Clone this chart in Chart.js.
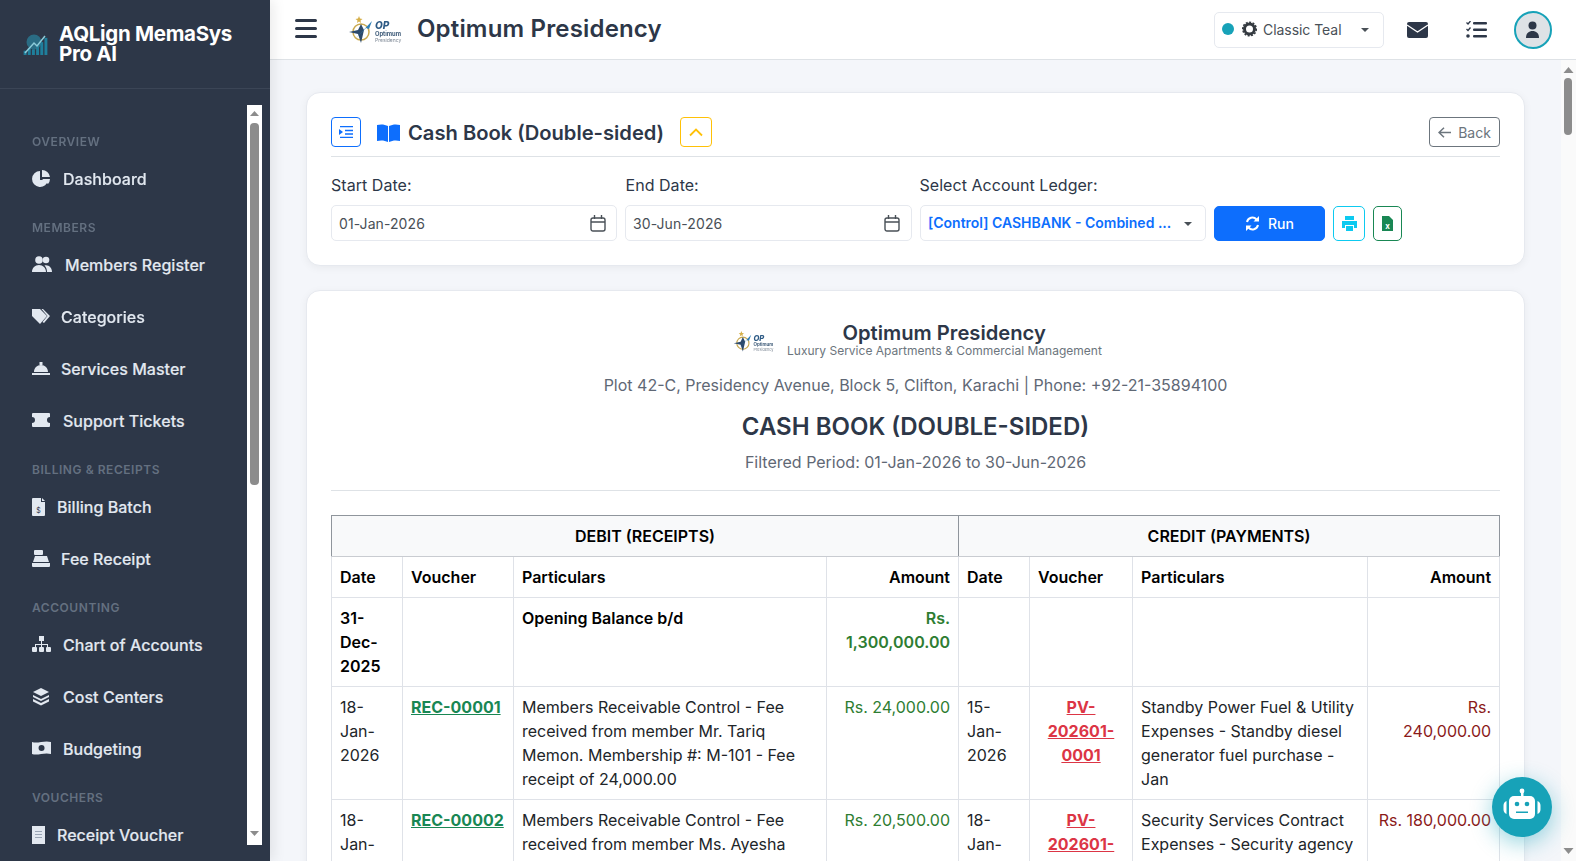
<!DOCTYPE html>
<html><head><meta charset="utf-8"><title>Cash Book (Double-sided)</title>
<script src="https://cdn.jsdelivr.net/npm/chart.js@4"></script>
<style>
*{box-sizing:border-box}
html,body{margin:0;padding:0;width:1576px;height:861px;overflow:hidden;background:#f4f6fa;font-family:Inter,sans-serif;color:#2d3748}
.a{position:absolute;white-space:nowrap}
.vc{transform:translateY(-50%)}
#root{position:absolute;left:0;top:0;width:1576px;height:861px;overflow:hidden}
#side{position:absolute;left:0;top:0;width:270px;height:861px;background:#2d3748;box-shadow:4px 0 12px rgba(0,0,0,.08);z-index:5}
.sec{font-size:12px;font-weight:600;letter-spacing:.55px;color:#647080}
.itm{font-size:16px;font-weight:500;color:#e2e8f0;letter-spacing:.03px;-webkit-text-stroke:.15px #e2e8f0}
.card{position:absolute;left:306px;width:1219px;background:#fff;border:1px solid #e6e9ef;border-radius:14px;box-shadow:0 2px 8px rgba(0,0,0,.05)}
.btn{position:absolute;border:1px solid;border-radius:4px;background:#fff;display:flex;align-items:center;justify-content:center}
.inp{position:absolute;top:205px;height:36px;background:#fff;border:1px solid #e6e9ef;border-radius:5px;font-size:14px;color:#495057;line-height:35px;padding-left:7px;white-space:nowrap}
table{position:absolute;left:331px;top:515px;width:1168px;border-collapse:collapse;table-layout:fixed;background:#fff;font-size:16px;line-height:24px;color:#212529}
td,th{border:1px solid #dfe2e8;padding:8px;vertical-align:top;text-align:left;overflow:hidden}
th{font-weight:600;color:#000}
tr.h th{background:#f8f9fa;text-align:center;border-color:#8f959c;border-bottom-color:#c9ccd1}
.r{text-align:right;white-space:pre-line}.g{color:#2e7d32}.d{color:#8b1a1a}
.lg{color:#198754;font-weight:700;text-decoration:underline}.lr{color:#dc3545;font-weight:700;text-decoration:underline;text-align:center}
svg{display:block}
</style></head><body>
<div id="root">
<div id="side"></div>
<div class="a" style="left:0;top:0;width:1576px;height:60px;background:#fff;border-bottom:1px solid #dee2e6"></div>
<div id="hdr"></div>
<div class="a" style="left:1561px;top:60px;width:15px;height:801px;background:#fafafa"></div>
<div class="a" style="left:1564px;top:78px;width:8px;height:57px;background:#8c8c8c;border-radius:4px"></div>
<svg class="a" style="left:1563px;top:66px" width="11" height="8"><path d="M5.5 1L10.5 7H.5z" fill="#8c8c8c"/></svg>
<svg class="a" style="left:1563px;top:847px" width="11" height="8"><path d="M5.5 7L10.5 1H.5z" fill="#8c8c8c"/></svg>
<div class="card" style="top:92px;height:174px"></div>
<div class="card" style="top:290px;height:600px"></div>
<div id="form"></div>
<div id="report"></div>
<table id="tb"></table>
<div class="a" style="left:1492px;top:777px;width:60px;height:60px;border-radius:50%;background:#17a2b8;box-shadow:0 6px 22px rgba(23,162,184,.45);z-index:9">
<svg width="60" height="60" viewBox="0 0 60 60"><rect x="29" y="14" width="2.5" height="6" fill="#fff"/><circle cx="30" cy="14" r="2.4" fill="#fff"/><rect x="17" y="19" width="26" height="23" rx="5" fill="#fff"/><path d="M14.5 24v13a5 5 0 0 1-3-4.500v-4a5 5 0 0 1 3-4.500zM45.500 24v13a5 5 0 0 0 3-4.500v-4a5 5 0 0 0-3-4.500z" fill="#fff"/><circle cx="25" cy="27" r="2.300" fill="#17a2b8"/><circle cx="35" cy="27" r="2.300" fill="#17a2b8"/><rect x="24" y="34.500" width="12" height="1.500" fill="#17a2b8"/></svg></div>
</div>
<script>
/* ---- page content ---- */
const brandLines = ["AQLign MemaSys", "Pro AI"];
const sectionLabels = [["OVERVIEW",141],["MEMBERS",227],["BILLING & RECEIPTS",469],["ACCOUNTING",607],["VOUCHERS",797]];
const menuItems = [["Dashboard",179,63,"pie"],["Members Register",265,65,"users"],["Categories",317,61,"tags"],["Services Master",369,61,"bell"],["Support Tickets",421,63,"ticket"],["Billing Batch",507,57,"doc"],["Fee Receipt",559,61,"reg"],["Chart of Accounts",645,63,"org"],["Cost Centers",697,63,"layers"],["Budgeting",749,63,"money"],["Receipt Voucher",835,57,"rcpt"]];
const debitHeader = "DEBIT (RECEIPTS)";
const creditHeader = "CREDIT (PAYMENTS)";
const columnLabels = ["Date","Voucher","Particulars","Amount"];
const columnWidths = [71,111,313,132,71,103,235,132];
const openingRow = ["31-Dec-2025","","Opening Balance b/d","Rs. 1,300,000.00"];
const debitRows = [
 ["18-Jan-2026","REC-00001","Members Receivable Control - Fee received from member Mr. Tariq Memon. Membership #: M-101 - Fee receipt of 24,000.00","Rs. 24,000.00"],
 ["18-Jan-","REC-00002","Members Receivable Control - Fee received from member Ms. Ayesha","Rs. 20,500.00"]];
const creditRows = [
 ["15-Jan-2026","PV-202601-0001","Standby Power Fuel & Utility Expenses - Standby diesel generator fuel purchase - Jan","Rs.\n240,000.00"],
 ["18-Jan-","PV-202601-","Security Services Contract Expenses - Security agency","Rs. 180,000.00"]];
/* bars of the small rising chart in the sidebar logo */
const logoBarLabels = ["a","b","c","d","e","f"];
const logoBarValues = [3,5,4,7,9,12];

const ic = {
 pie:'<path d="M8 1a8 8 0 1 0 8 9H8z" fill="#e2e8f0"/><path d="M10 0a8 8 0 0 1 8 7h-8zM10 9h8a8 8 0 0 1-2 5z" fill="#e2e8f0"/>',
 users:'<circle cx="7" cy="4" r="3.800" fill="#e2e8f0"/><circle cx="14" cy="4" r="3.300" fill="#e2e8f0"/><path d="M0 16c0-4 3-7 7-7s7 3 7 7zM15 16c0-3-1-5-2.500-6.500 4-1 7.500 2 7.500 6.500z" fill="#e2e8f0"/>',
 tags:'<path d="M0 1h8l7 7-7 8-8-8z" fill="#e2e8f0"/><path d="M11 1l7 7-6 7-1.500-1 5-6-6-7z" fill="#e2e8f0"/>',
 bell:'<path d="M2 12c0-4 3-7 7-7s7 3 7 7zM0 13h18v2H0z" fill="#e2e8f0"/><rect x="7.500" y="2" width="3" height="3" fill="#e2e8f0"/>',
 ticket:'<path d="M1 1h16a1 1 0 0 1 1 1v3a2.500 2.500 0 0 0 0 6v3a1 1 0 0 1-1 1H1a1 1 0 0 1-1-1v-3a2.500 2.500 0 0 0 0-6V2a1 1 0 0 1 1-1z" fill="#e2e8f0"/>',
 doc:'<path d="M1 0h8v4h4v13a1 1 0 0 1-1 1H1a1 1 0 0 1-1-1V1a1 1 0 0 1 1-1z" fill="#e2e8f0"/><path d="M10 0l3 3h-3z" fill="#e2e8f0"/><text x="6.500" y="14.500" font-size="7" text-anchor="middle" fill="#2d3748" font-family="Inter">$</text>',
 reg:'<rect x="2" y="0" width="9" height="5" rx="1" fill="#e2e8f0"/><path d="M3 6h12l2 6H1zM0 13h18v3a1 1 0 0 1-1 1H1a1 1 0 0 1-1-1z" fill="#e2e8f0"/>',
 org:'<rect x="7" y="0" width="5" height="5" fill="#e2e8f0"/><path d="M9 5h1v3h6v3h-1V9h-5v2H9V9H4v2H3V8h6z" fill="#e2e8f0"/><rect x="0" y="11" width="5" height="5" rx="1" fill="#e2e8f0"/><rect x="7" y="11" width="5" height="5" rx="1" fill="#e2e8f0"/><rect x="14" y="11" width="5" height="5" rx="1" fill="#e2e8f0"/>',
 layers:'<path d="M9 0l8 4-8 4-8-4zM1 7l8 4 8-4v2l-8 4-8-4zM1 11l8 4 8-4v2.500l-8 4-8-4z" fill="#e2e8f0"/>',
 money:'<path fill-rule="evenodd" d="M0 2c6 2 12-2 19 0v12c-7-2-13 2-19 0zM9.500 5a3 3 0 1 0 .1 6 3 3 0 0 0-.1-6z" fill="#e2e8f0"/>',
 rcpt:'<path d="M0 0h13v18H0z" fill="#e2e8f0"/><path d="M3 5h7v1H3zM3 8h7v1H3zM3 11h7v1H3z" fill="#9aa5b5"/>'
};
const txt=(l,t,s,css)=>`<div class="a vc" style="left:${l}px;top:${t}px;${css||''}">${s}</div>`;
const svgAt=(l,t,w,h,inner,extra)=>`<svg class="a" style="left:${l}px;top:${t}px;${extra||''}" width="${w}" height="${h}" viewBox="0 0 ${w} ${h}">${inner}</svg>`;

/* sidebar */
let s='';
s+=txt(59,44,brandLines.join('<br>'),'font-size:20.500px;line-height:20px;font-weight:700;color:#fff;letter-spacing:-.3px');
s+='<div class="a" style="left:0;top:88px;width:270px;height:1px;background:#3b4556"></div>';
s+='<div class="a" style="left:23px;top:35px;width:25px;height:20px;filter:blur(.4px)"><canvas id="logoChart" width="25" height="20" style="display:block"></canvas></div>';
s+=svgAt(22,33,26,22,'<circle cx="12" cy="9" r="7.500" fill="#2a7f98" opacity=".75"/><path d="M3 20L12 10l3 3 8-10" fill="none" stroke="#8ccbd9" stroke-width="1.500"/>','filter:blur(.4px)');
for(const [t,y] of sectionLabels) s+=txt(32,y,t.replace('&','&amp;'),'').replace('class="a vc"','class="a vc sec"');
for(const [t,y,x,i] of menuItems){ s+=txt(x,y,t,'').replace('class="a vc"','class="a vc itm"'); s+=svgAt(32,y-9,20,18,ic[i]); }
s+='<div class="a" style="left:247px;top:105px;width:15px;height:740px;background:#fff"></div>';
s+='<div class="a" style="left:250px;top:123px;width:9px;height:362px;background:#8c8c8c;border-radius:4px"></div>';
s+=svgAt(250,110,9,7,'<path d="M4.500 1L9 6H0z" fill="#8c8c8c"/>');
s+=svgAt(250,830,9,7,'<path d="M4.500 6L9 1H0z" fill="#8c8c8c"/>');
document.getElementById('side').innerHTML=s;

/* top bar */
const opLogo=(x,y,k)=>`<svg class="a" style="left:${x}px;top:${y}px;filter:blur(.3px)" width="${56*k}" height="${28*k}" viewBox="0 0 56 28"><path d="M11 0l1 2.500 2.500.5-2 1.500.5 2.500-2-1.500-2 1.500.5-2.500-2-1.500 2.500-.5z" fill="#d6b04a"/><circle cx="13" cy="16" r="8" fill="none" stroke="#c9a94f" stroke-width="1.500"/><path d="M1 16l9-2 3-6 3 6-3 13-3-9z" fill="#2d4a6b"/><path d="M8 22L24 5l-3 8-3-1z" fill="#2e7fb8"/><text x="27" y="13" font-size="10" font-weight="800" font-style="italic" fill="#2d5a85" font-family="Inter">OP</text><text x="27" y="20" font-size="5.800" font-weight="700" fill="#3d5a78" font-family="Inter">Optimum</text><text x="27" y="26" font-size="5" fill="#7c8794" font-family="Inter">Presidency</text></svg>`;
let h='';
h+=svgAt(295,19,22,19,'<rect y="0" width="22" height="3" rx="1.500" fill="#2d3748"/><rect y="8" width="22" height="3" rx="1.500" fill="#2d3748"/><rect y="16" width="22" height="3" rx="1.500" fill="#2d3748"/>');
h+=opLogo(348,16,1);
h+=txt(417,28,'Optimum Presidency','font-size:24px;font-weight:600;color:#2d3748;letter-spacing:.17px');
h+='<div class="a" style="left:1214px;top:12px;width:170px;height:36px;border:1px solid #e6e9ef;border-radius:5px;background:#fff"></div>';
h+='<div class="a" style="left:1222px;top:23px;width:12px;height:12px;border-radius:50%;background:#17a2b8"></div>';
h+=svgAt(1242,21,15,16,'<circle cx="7.500" cy="8" r="5" fill="none" stroke="#343a40" stroke-width="3"/><circle cx="7.500" cy="8" r="6.800" fill="none" stroke="#343a40" stroke-width="1.500" stroke-dasharray="2 1.500"/>');
h+=txt(1263,28.500,'Classic Teal','font-size:14px;color:#495057;letter-spacing:-.05px');
h+=svgAt(1361,28,8,4,'<path d="M0 0h8L4 4z" fill="#495057"/>');
h+=svgAt(1407,22,21,16,'<rect width="21" height="16" rx="2" fill="#2d3748"/><path d="M0 3l10.500 7L21 3" fill="none" stroke="#fff" stroke-width="1.300"/>');
h+=svgAt(1466,21,21,17,'<rect x="7" y="1" width="14" height="2.500" rx="1" fill="#2d3748"/><rect x="7" y="7.500" width="14" height="2.500" rx="1" fill="#2d3748"/><rect x="7" y="14" width="14" height="2.500" rx="1" fill="#2d3748"/><path d="M.5 1.500l1.500 1.500 2.500-3M.5 8l1.500 1.500 2.500-3" fill="none" stroke="#2d3748" stroke-width="1.300"/><circle cx="2" cy="15" r="1.800" fill="#2d3748"/>');
h+='<div class="a" style="left:1514px;top:11px;width:38px;height:38px;border-radius:50%;background:#dee2e6;border:2px solid #17a2b8"></div>';
h+=svgAt(1525,21,15,18,'<circle cx="7.500" cy="4.500" r="4" fill="#2d3748"/><path d="M1 17c0-5 3-7 6.500-7s6.500 2 6.500 7z" fill="#2d3748"/>');
document.getElementById('hdr').innerHTML=h;

/* filter card */
const cal='<rect x="1" y="3" width="14" height="13" rx="2" fill="none" stroke="#495057" stroke-width="1.400"/><path d="M1 7h14M4.500 0v4M11.500 0v4" stroke="#495057" stroke-width="1.400"/>';
let f='';
f+='<div class="btn" style="left:331px;top:117px;width:30px;height:30px;border-color:#0d6efd"><svg width="14" height="12"><path d="M0 3l4 3-4 3z" fill="#0d6efd"/><path d="M1 .7h13M6 4.500h8M6 8h8M1 11.300h13" stroke="#0d6efd" stroke-width="1.300"/></svg></div>';
f+=svgAt(377,124,23,18,'<path d="M11 2C8 .5 4 0 0 1v16c4-1 8-.5 11 1zM12 2c3-1.500 7-2 11-1v16c-4-1-8-.5-11 1z" fill="#0d6efd"/>');
f+=txt(408,132,'Cash Book (Double-sided)','font-size:20.150px;font-weight:600;color:#2d3748');
f+='<div class="btn" style="left:680px;top:117px;width:32px;height:30px;border-color:#ffc107"><svg width="14" height="9"><path d="M1 7.500l6-6 6 6" fill="none" stroke="#ffc107" stroke-width="1.800"/></svg></div>';
f+='<div class="btn" style="left:1429px;top:117px;width:71px;height:30px;border-color:#6c757d;color:#6c757d;font-size:14px;gap:7px"><svg width="13" height="11"><path d="M6 .7L1 5.500l5 4.800M1 5.500h12" fill="none" stroke="#6c757d" stroke-width="1.500"/></svg>Back</div>';
f+='<div class="a" style="left:331px;top:156px;width:1169px;height:1px;background:#dee2e6"></div>';
const lab='font-size:16px;color:#2d3748;letter-spacing:.04px';
f+=txt(331,184.500,'Start Date:',lab)+txt(625.500,184.500,'End Date:',lab)+txt(919.500,184.500,'Select Account Ledger:',lab);
f+='<div class="inp" style="left:331px;width:286px;letter-spacing:.08px">01-Jan-2026</div>'+svgAt(590,215,16,17,cal);
f+='<div class="inp" style="left:625px;width:287px;letter-spacing:.08px">30-Jun-2026</div>'+svgAt(883.500,215,16,17,cal);
f+='<div class="inp" style="left:920px;width:286px;color:#0d6efd;font-weight:600;font-size:14px;line-height:34px">[Control] CASHBANK - Combined ...</div>'+svgAt(1184,222,8,4,'<path d="M0 0h8L4 4z" fill="#495057"/>');
f+='<div class="btn" style="left:1214px;top:206px;width:111px;height:35px;background:#0d6efd;border-color:#0d6efd;color:#fff;font-size:14px;font-weight:500;gap:8px;border-radius:5px"><svg width="15" height="15" viewBox="0 0 15 15"><path d="M2 6a5.500 5.500 0 0 1 9.500-2.500M13 9a5.500 5.500 0 0 1-9.500 2.500" fill="none" stroke="#fff" stroke-width="2"/><path d="M14 0v5.500H8.500zM1 15V9.500h5.500z" fill="#fff"/></svg>Run</div>';
f+='<div class="btn" style="left:1333px;top:206px;width:32px;height:35px;border-color:#0dcaf0;border-radius:5px"><svg width="15" height="15"><path d="M3 0h9v4H3zM0 5h15v7h-3V9H3v3H0zM4 10h7v5H4z" fill="#0dcaf0"/></svg></div>';
f+='<div class="btn" style="left:1373px;top:206px;width:29px;height:35px;border-color:#198754;border-radius:5px"><svg width="11" height="15"><path d="M0 0h7l4 4v11H0z" fill="#198754"/><text x="5.500" y="13" font-size="8" font-weight="700" text-anchor="middle" fill="#fff" font-family="Inter">x</text></svg></div>';
document.getElementById('form').innerHTML=f;

/* report heading */
let r='';
r+=opLogo(733,331,.76);
r+=`<div class="a vc" style="left:842.500px;top:332px;font-size:20.200px;font-weight:600;color:#2d3748">Optimum Presidency</div>`;
r+=`<div class="a vc" style="left:787px;top:350px;font-size:12px;color:#6c757d;letter-spacing:.01px">Luxury Service Apartments &amp; Commercial Management</div>`;
const ctr=(t,s,css)=>`<div class="a vc" style="left:331px;width:1169px;text-align:center;top:${t}px;${css}">${s}</div>`;
r+=ctr(385,'Plot 42-C, Presidency Avenue, Block 5, Clifton, Karachi | Phone: +92-21-35894100','font-size:16px;color:#5f6875');
r+=ctr(426,'CASH BOOK (DOUBLE-SIDED)','font-size:24px;font-weight:600;color:#2d3748');
r+=ctr(462,'Filtered Period: 01-Jan-2026 to 30-Jun-2026','font-size:16px;color:#5f6875');
r+='<div class="a" style="left:331px;top:490px;width:1169px;height:1px;background:#dee2e6"></div>';
document.getElementById('report').innerHTML=r;

/* table */
let t='<colgroup>'+columnWidths.map(w=>`<col style="width:${w}px">`).join('')+'</colgroup>';
t+=`<tr class="h"><th colspan="4">${debitHeader}</th><th colspan="4">${creditHeader}</th></tr>`;
t+='<tr>'+[...columnLabels,...columnLabels].map((c,i)=>`<th class="${i%4==3?'r':''}">${c}</th>`).join('')+'</tr>';
t+=`<tr><th>${openingRow[0]}</th><td></td><th>${openingRow[2]}</th><th class="r g">${openingRow[3]}</th><td></td><td></td><td></td><td></td></tr>`;
debitRows.forEach((d,i)=>{const c=creditRows[i];
 t+=`<tr><td>${d[0]}</td><td class="lg">${d[1]}</td><td>${d[2]}</td><td class="r g">${d[3]}</td><td>${c[0]}</td><td class="lr">${c[1]}</td><td>${c[2].replace('&','&amp;')}</td><td class="r d">${c[3]}</td></tr>`;});
document.getElementById('tb').innerHTML=t;

/* the only chart-like mark on the page: logo bars, drawn by Chart.js */
new Chart(document.getElementById('logoChart'),{type:'bar',
 data:{labels:logoBarLabels,datasets:[{data:logoBarValues,backgroundColor:'#1f7f9c',barPercentage:.7,categoryPercentage:1}]},
 options:{responsive:false,animation:false,events:[],layout:{padding:0},
  plugins:{legend:{display:false},tooltip:{enabled:false}},
  scales:{x:{display:false},y:{display:false,min:0,max:14}}}});
</script>
</body></html>
